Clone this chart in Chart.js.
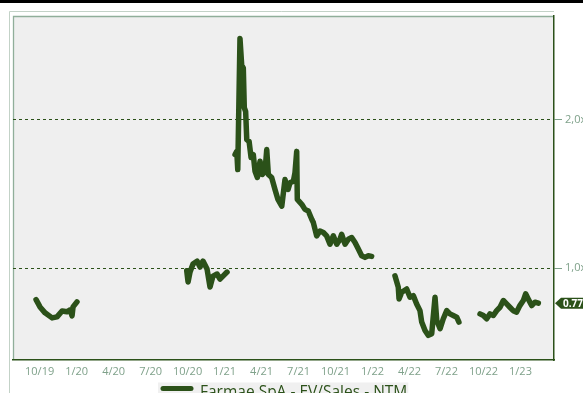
<!DOCTYPE html>
<html>
<head>
<meta charset="utf-8">
<script src="https://cdn.jsdelivr.net/npm/chart.js@4.4.1/dist/chart.umd.min.js"></script>
<style>
  html,body{margin:0;padding:0;background:#fff;overflow:hidden;}
</style>
</head>
<body>
<canvas id="chartEv" width="583" height="393"></canvas>
<script>
// ============ EV/Sales NTM - Farmae ============
// x = bulan sejak Okt 2019 (0 = 10/19), y = multiple EV/Sales
// tiap segmen dipisah null biar garisnya putus kayak di gambar

const xTickValues = [0,3,6,9,12,15,18,21,24,27,30,33,36,39];
const xTickLabels = ['10/19','1/20','4/20','7/20','10/20','1/21','4/21','7/21','10/21','1/22','4/22','7/22','10/22','1/23'];
const yTickValues = [1,2];
const yTickLabels = ['1,0x','2,0x'];

const seg1Months = [-0.29,0.03,0.44,1.01,1.41,1.82,2.22,2.47,2.63,2.71,3.03];
const seg1Values = [0.787,0.738,0.698,0.664,0.671,0.711,0.705,0.718,0.678,0.738,0.772];

const seg2Months = [11.93,12.04,12.20,12.44,12.77,13.01,13.25,13.58,13.82,14.06,14.39,14.63,14.87,15.20];
const seg2Values = [0.982,0.906,0.973,1.027,1.047,1.007,1.047,0.993,0.872,0.946,0.960,0.926,0.946,0.973];

const seg3Months = [15.85,15.99,16.07,16.25,16.39,16.52,16.60,16.71,16.80,16.99,
  17.15,17.33,17.47,17.66,17.88,18.06,18.28,18.42,18.55,18.82,
  19.09,19.33,19.64,19.90,20.15,20.31,20.58,20.71,20.85,20.90,
  21.26,21.52,21.79,22.07,22.20,22.47,22.74,23.01,23.28,23.55,
  23.82,24.10,24.36,24.50,24.77,25.04,25.31,25.58,25.85,26.12,
  26.39,26.66,26.93];
const seg3Values = [1.765,1.787,1.664,2.548,2.369,2.349,2.081,2.056,1.866,1.854,
  1.745,1.765,1.653,1.611,1.720,1.631,1.653,1.799,1.631,1.611,
  1.530,1.463,1.418,1.597,1.530,1.575,1.586,1.642,1.787,1.463,
  1.430,1.396,1.385,1.329,1.307,1.217,1.250,1.240,1.217,1.161,
  1.217,1.161,1.195,1.228,1.161,1.195,1.206,1.172,1.128,1.083,
  1.072,1.083,1.079];

const seg4Months = [28.82,29.09,29.15,29.37,29.77,30.04,30.31,30.58,30.85,30.99,31.26,31.53,31.80,32.07,32.21,32.48,32.74,33.02,33.28,33.55,33.83,34.01];
const seg4Values = [0.948,0.870,0.792,0.837,0.859,0.803,0.814,0.758,0.713,0.636,0.579,0.546,0.557,0.803,0.646,0.591,0.658,0.713,0.691,0.680,0.669,0.636];

const seg5Months = [35.72,35.99,36.26,36.53,36.80,37.07,37.34,37.61,37.88,38.14,38.41,38.69,38.95,39.23,39.42,39.63,39.91,40.18,40.45];
const seg5Values = [0.691,0.680,0.658,0.691,0.680,0.713,0.736,0.781,0.758,0.736,0.713,0.703,0.747,0.781,0.826,0.792,0.747,0.770,0.763];

const seriesLabel = 'Farmae SpA - EV/Sales - NTM';
const lastLabel = '0.77';

const COLORS = {
  line:'#2b5119', tick:'#7fa18a', frameOuter:'#c3d2c7', frameInner:'#90ae9a', plotBg:'#efefef', legendBg:'#f0f0f0'
};

function buildPoints(){
  const segs=[[seg1Months,seg1Values],[seg2Months,seg2Values],[seg3Months,seg3Values],[seg4Months,seg4Values],[seg5Months,seg5Values]];
  const pts=[];
  segs.forEach(([ms,vs],si)=>{
    if(si>0) pts.push({x:(ms[0]+pts[pts.length-1].x)/2, y:null}); // putus garis
    ms.forEach((m,i)=>pts.push({x:m,y:vs[i]}));
  });
  return pts;
}

// background + frame
const framePlugin={
  id:'frame',
  beforeDraw(chart){
    const {ctx,chartArea:a}=chart;
    ctx.save();
    ctx.fillStyle='#000'; ctx.fillRect(0,0,chart.width,3);
    ctx.strokeStyle=COLORS.frameOuter; ctx.lineWidth=1;
    ctx.beginPath(); ctx.moveTo(9.5,chart.height); ctx.lineTo(9.5,11.5); ctx.lineTo(a.right,11.5); ctx.stroke();
    ctx.fillStyle=COLORS.plotBg; ctx.fillRect(a.left,a.top,a.right-a.left,a.bottom-a.top);
    ctx.strokeStyle=COLORS.frameInner; ctx.lineWidth=1.3;
    ctx.beginPath(); ctx.moveTo(a.left+0.5,a.bottom); ctx.lineTo(a.left+0.5,a.top+0.5); ctx.lineTo(a.right,a.top+0.5); ctx.stroke();
    ctx.restore();
  }
};

// legend manual: di gambar asli kepotong di bawah & agak geser ke kiri
const legendPlugin={
  id:'bottomLegend',
  afterDraw(chart){
    const ctx=chart.ctx;
    const ds=chart.data.datasets[0];
    ctx.save();
    ctx.font='15.5px "Open Sans"';
    const tw=ctx.measureText(ds.label).width;
    const x0=161, y0=388.5;
    ctx.fillStyle=COLORS.legendBg; ctx.fillRect(x0-3,382.5,39+tw+4,20);
    ctx.strokeStyle=ds.borderColor; ctx.lineWidth=5; ctx.lineCap='round';
    ctx.beginPath(); ctx.moveTo(x0+2,y0); ctx.lineTo(x0+30,y0); ctx.stroke();
    ctx.fillStyle=ds.borderColor; ctx.textBaseline='alphabetic'; ctx.textAlign='left';
    ctx.fillText(ds.label,x0+39,396.5);
    ctx.restore();
  }
};

// tag nilai terakhir di kanan
const lastTagPlugin={
  id:'lastTag',
  afterDraw(chart){
    const {ctx,chartArea:a}=chart;
    const y=chart.scales.y.getPixelForValue(seg5Values[seg5Values.length-1]);
    const x0=a.right+1;
    ctx.save();
    ctx.fillStyle=COLORS.line;
    ctx.beginPath();
    ctx.moveTo(x0,y); ctx.lineTo(x0+6,y-5.5); ctx.lineTo(chart.width,y-5.5); ctx.lineTo(chart.width,y+5.5); ctx.lineTo(x0+6,y+5.5);
    ctx.closePath(); ctx.fill();
    ctx.fillStyle='#fff'; ctx.font='bold 10px "Open Sans"'; ctx.textBaseline='middle'; ctx.textAlign='left';
    ctx.fillText(lastLabel,x0+8,y+0.5);
    ctx.restore();
  }
};

function renderChart(){
  if(typeof Chart==='undefined')return;
  const ctx=document.getElementById('chartEv').getContext('2d');
  new Chart(ctx,{
    type:'line',
    data:{ datasets:[{
      label:seriesLabel, data:buildPoints(), borderColor:COLORS.line, backgroundColor:COLORS.line,
      borderWidth:5.5, pointRadius:0, tension:0, spanGaps:false, borderJoinStyle:'round', borderCapStyle:'round'
    }]},
    options:{
      responsive:false, animation:false,
      layout:{ padding:{ left:13, right:0, top:16, bottom:0 } },
      plugins:{ tooltip:{enabled:false}, legend:{display:false} },
      scales:{
        x:{
          type:'linear', min:-2.16, max:41.72,
          afterBuildTicks:s=>{ s.ticks=xTickValues.map(v=>({value:v})); },
          afterFit:s=>{ s.height=33; },
          ticks:{ color:COLORS.tick, font:{ family:'"Open Sans"', size:11 }, padding:5, maxRotation:0, autoSkip:false,
            callback:(v,i)=>xTickLabels[i] },
          grid:{ display:false, drawTicks:false },
          border:{ display:true, color:COLORS.line, width:1.5 }
        },
        y:{
          position:'right', min:0.38, max:2.7,
          afterBuildTicks:s=>{ s.ticks=yTickValues.map(v=>({value:v})); },
          afterFit:s=>{ s.width=29; },
          ticks:{ color:COLORS.tick, font:{ family:'"Open Sans"', size:11 }, padding:3, callback:(v,i)=>yTickLabels[i] },
          grid:{ color:COLORS.line, lineWidth:1, tickColor:COLORS.tick, tickLength:8, drawOnChartArea:true },
          border:{ display:true, color:COLORS.line, width:1.5, dash:[3,3] }
        }
      }
    },
    plugins:[framePlugin,legendPlugin,lastTagPlugin]
  });
}

renderChart();
</script>
</body>
</html>
